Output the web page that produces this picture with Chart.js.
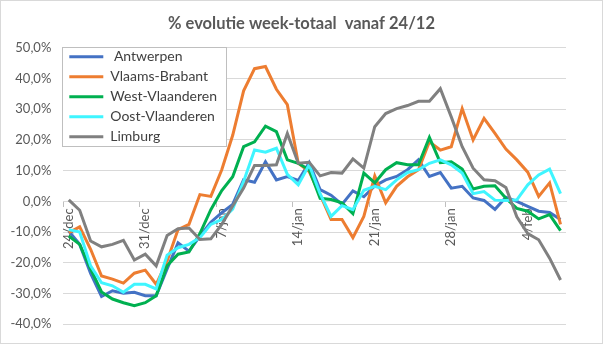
<!DOCTYPE html>
<html>
<head>
<meta charset="utf-8">
<script src="https://cdn.jsdelivr.net/npm/chart.js@4/dist/chart.umd.min.js"></script>
<style>
    body { margin: 0; background: #fff; }
    #wrap { position: relative; width: 603px; height: 344px; }
    #frame { position: absolute; left: 0; top: 0; width: 603px; height: 344px; box-sizing: border-box; border: 1px solid #d9d9d9; pointer-events: none; }
</style>
</head>
<body>
<div id="wrap">
    <canvas id="chart" width="603" height="344"></canvas>
    <div id="frame"></div>
</div>
<script>
// Days from 24/dec to 7/feb
const days = [
    "24/dec", "25/dec", "26/dec", "27/dec", "28/dec", "29/dec", "30/dec", "31/dec",
    "1/jan", "2/jan", "3/jan", "4/jan", "5/jan", "6/jan", "7/jan", "8/jan", "9/jan", "10/jan",
    "11/jan", "12/jan", "13/jan", "14/jan", "15/jan", "16/jan", "17/jan", "18/jan", "19/jan", "20/jan",
    "21/jan", "22/jan", "23/jan", "24/jan", "25/jan", "26/jan", "27/jan", "28/jan", "29/jan", "30/jan",
    "31/jan", "1/feb", "2/feb", "3/feb", "4/feb", "5/feb", "6/feb", "7/feb"
];

// Series values (%)
const antwerpen = [
    -9.7, -14, -23.5, -31, -29.1, -29.9, -29.6, -30.7, -30.7, -22,
    -13.5, -16.2, -11.3, -6.8, -3.7, -1, 7, 6.2, 12.9, 7,
    8.1, 6.8, 12.6, 3.8, 2, -1, 3.4, 1.5, 5, 7,
    8.1, 10.3, 13.5, 8.1, 9.4, 4.3, 4.9, 1.1, 0.3, -2.6,
    1.3, 0, -1.6, -3.2, -3.6, -5.9
];
const vlaamsBrabant = [
    -10.2, -8.3, -15.6, -24.3, -25.3, -26.6, -23.4, -22.4, -27, -19.4,
    -9.2, -7.5, 2.2, 1.6, 10.3, 21.5, 36, 43.2, 43.9, 36.5,
    31.5, 12.4, 9.7, 2.2, -5.9, -5.9, -11.8, -4.9, 8.3, -0.5,
    4.9, 8, 10.3, 19.4, 16.7, 17.8, 30.2, 20, 27, 22.1,
    17, 13.5, 9.5, 1.6, 6, -7.5
];
const westVlaanderen = [
    -11.3, -14, -22, -29.5, -31.8, -33, -34, -33, -30.7, -21,
    -17.2, -16.5, -10.5, -2.7, 3.5, 8, 17.8, 19.4, 24.5, 22.7,
    13.5, 12.4, 10.3, 1, 0.6, -0.5, -4, 9.2, 6, 10.3,
    12.6, 11.9, 11.9, 20.8, 12.6, 12.9, 10.5, 4, 4.9, 5.1,
    1, -2.3, -3.2, -5.7, -4.3, -9.5
];
const oostVlaanderen = [
    -9.2, -10, -21, -26.5, -27.5, -29.6, -27, -27, -28.5, -17.5,
    -15.1, -14, -11.8, -7.5, -5.9, -2.5, 6.5, 16.7, 16, 17.3,
    8.8, 5.4, 11.9, 2.5, -4.9, -1.4, -2.7, 3.6, 4.9, 3.8,
    7, 9.4, 10.3, 12.4, 13.5, 11.9, 9.2, 2.5, 3.2, 0.4,
    0.3, 0.5, 5.4, 8.6, 10.5, 2.5
];
const limburg = [
    0.5, -2.9, -12.9, -14.8, -14, -12.7, -19.1, -17.2, -21, -11.1,
    -8.9, -8.7, -12.4, -12.2, -7.5, -1.5, 4.3, 11.7, 11.7, 11.9,
    22.1, 12.4, 12.7, 8.3, 9.4, 9.2, 13.8, 10.8, 24.3, 28.6,
    30.2, 31.2, 32.6, 32.6, 36.7, 27.5, 17.8, 10.8, 7, 6.7,
    4.5, -5, -10.5, -12.5, -18.5, -25.6
];

const seriesNames = [" Antwerpen", "Vlaams-Brabant", "West-Vlaanderen", "Oost-Vlaanderen", "Limburg"];
const seriesData = [antwerpen, vlaamsBrabant, westVlaanderen, oostVlaanderen, limburg];
const seriesColors = ["#4472c4", "#ed7d31", "#00b050", "#3ff5ff", "#808080"];

Chart.defaults.font.family = "Lato";

// Legend sits inside the plot, top-left, in a white framed box
const legendFrame = {
    id: "legendFrame",
    afterLayout(chart) {
        const lg = chart.legend;
        lg.top = chart.chartArea.top - 4;
        lg.bottom = lg.top + 150;
    },
    afterDatasetsDraw(chart) {
        const lg = chart.legend;
        const ctx = chart.ctx;
        const x = Math.round(lg.left) - 1;
        const y = Math.round(chart.chartArea.top) - 1;
        const w = Math.round(lg.width);
        const h = 99;
        ctx.save();
        ctx.fillStyle = "#ffffff";
        ctx.fillRect(x, y, w, h);
        ctx.strokeStyle = "#bfbfbf";
        ctx.lineWidth = 1;
        ctx.strokeRect(x + 0.5, y + 0.5, w, h);
        ctx.restore();
        lg.draw();
    }
};

let datasets = [];
for (let i = 0; i < seriesNames.length; i++) {
    datasets.push({
        label: seriesNames[i],
        data: seriesData[i],
        borderColor: seriesColors[i],
        backgroundColor: seriesColors[i],
        borderWidth: 3,
        pointRadius: 0,
        tension: 0,
        order: seriesNames.length - 1 - i
    });
}

new Chart(document.getElementById("chart"), {
    type: "line",
    data: {
        labels: days,
        datasets: datasets
    },
    options: {
        responsive: false,
        animation: false,
        layout: {
            padding: { left: 8, right: 8, top: 0, bottom: 19 }
        },
        plugins: {
            title: {
                display: true,
                text: "% evolutie week-totaal  vanaf 24/12",
                color: "#595959",
                font: { size: 16.5, weight: "bold" },
                padding: { top: 14, bottom: 14 }
            },
            legend: {
                position: "chartArea",
                align: "start",
                labels: {
                    usePointStyle: true,
                    pointStyle: "line",
                    pointStyleWidth: 34,
                    padding: 6,
                    color: "#404040",
                    font: { size: 14 },
                    sort: (a, b) => a.datasetIndex - b.datasetIndex
                }
            },
            tooltip: { enabled: false }
        },
        scales: {
            x: {
                position: { y: 0 },
                offset: true,
                grid: {
                    offset: true,
                    drawOnChartArea: false,
                    tickLength: 5,
                    color: (c) => (c.index % 7 === 0 ? "#bfbfbf" : "rgba(0,0,0,0)")
                },
                border: { display: true, color: "#d9d9d9" },
                ticks: {
                    autoSkip: false,
                    minRotation: 90,
                    maxRotation: 90,
                    padding: 2,
                    color: "#595959",
                    font: { size: 13 },
                    callback: (val, i) => (i % 7 === 0 ? days[i] : "")
                }
            },
            y: {
                min: -40,
                max: 50,
                afterFit: (scale) => { scale.width = 55.3; },
                grid: { color: "#d9d9d9", drawTicks: false },
                border: { display: false },
                ticks: {
                    stepSize: 10,
                    padding: 12,
                    color: "#595959",
                    font: { size: 13 },
                    callback: (v) => v.toFixed(1).replace(".", ",") + "%"
                }
            },
            // empty right margin, keeps the title centred on the whole chart
            yRight: {
                position: "right",
                afterFit: (scale) => { scale.width = 29; },
                grid: { display: false },
                border: { display: false },
                ticks: { display: false }
            }
        }
    },
    plugins: [legendFrame]
});
</script>
</body>
</html>
